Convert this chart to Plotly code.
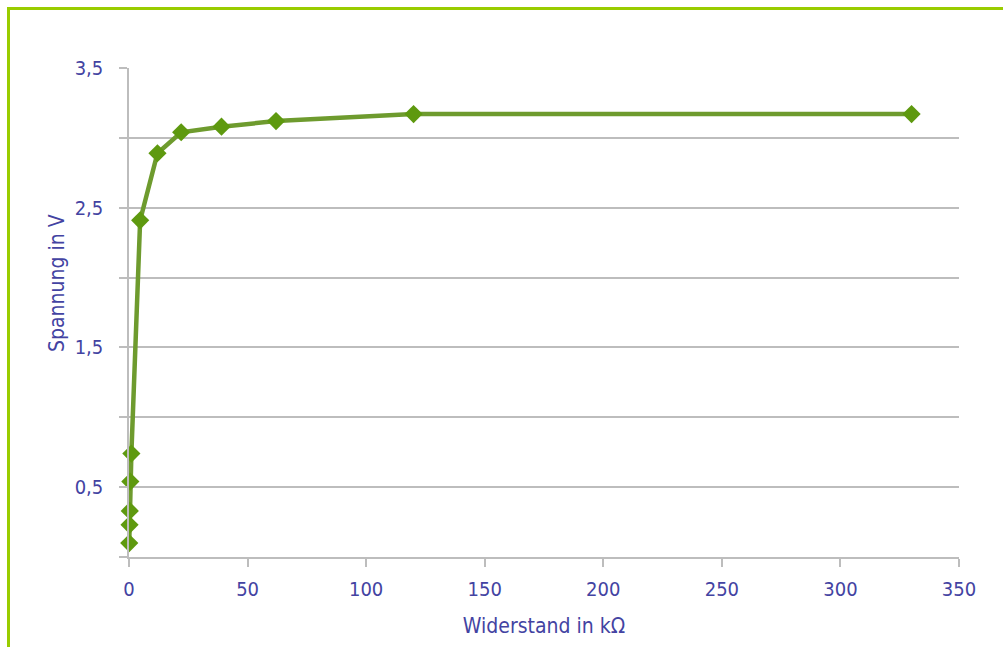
import plotly.graph_objects as go

# Data
resistance_kohm = [0.1, 0.22, 0.33, 0.56, 1.0, 4.7, 12, 22, 39, 62, 120, 330]
voltage_v = [0.10, 0.23, 0.33, 0.54, 0.74, 2.41, 2.89, 3.04, 3.08, 3.12, 3.17, 3.17]

y_tickvals = [0, 0.5, 1.0, 1.5, 2.0, 2.5, 3.0, 3.5]
y_ticktext = ["", "0,5", "", "1,5", "", "2,5", "", "3,5"]
x_tickvals = [0, 50, 100, 150, 200, 250, 300, 350]
x_ticktext = ["0", "50", "100", "150", "200", "250", "300", "350"]

FONT = "DejaVu Sans Condensed, Liberation Sans Narrow, Arial Narrow, sans-serif"
TXT = "#4343a2"
GRID = "#bdbdbd"
FRAME = "#99cc00"

fig = go.Figure()
fig.add_trace(go.Scatter(
    x=resistance_kohm, y=voltage_v, mode="lines+markers",
    line=dict(color="#6e9b2e", width=4.5),
    marker=dict(symbol="diamond", size=14, color="#5e990f"),
    cliponaxis=False,
    showlegend=False,
))

W, H = 1004, 648
L, R, T, B = 129, 45, 68, 91
pw, ph = W - L - R, H - T - B

def px(xp):
    return (xp - L) / pw

def py(yp):
    return (H - B - yp) / ph

fig.update_layout(
    width=W, height=H,
    margin=dict(l=L, r=R, t=T, b=B),
    paper_bgcolor="white", plot_bgcolor="white",
    font=dict(family=FONT, color=TXT, size=20),
    xaxis=dict(
        range=[0, 350], tickvals=x_tickvals, ticktext=x_ticktext,
        showgrid=False, showline=True, linecolor=GRID, linewidth=1.5,
        ticks="outside", ticklen=8, tickcolor=GRID, tickwidth=1.5,
        tickfont=dict(size=20, color=TXT, family=FONT),
        ticklabelstandoff=5,
        title=dict(text="Widerstand in kΩ", font=dict(size=21, color=TXT, family=FONT), standoff=19),
        zeroline=False,
    ),
    yaxis=dict(
        range=[0, 3.5], tickvals=y_tickvals, ticktext=y_ticktext,
        showgrid=True, gridcolor=GRID, gridwidth=1.5,
        showline=True, linecolor=GRID, linewidth=1.5,
        ticks="outside", ticklen=8, tickcolor=GRID, tickwidth=1.5,
        tickfont=dict(size=20, color=TXT, family=FONT),
        ticklabelstandoff=12,
        zeroline=False,
    ),
    annotations=[dict(
        text="Spannung in V", textangle=-90, showarrow=False,
        xref="paper", yref="paper", x=px(57), y=py(283),
        xanchor="center", yanchor="middle",
        font=dict(size=21, color=TXT, family=FONT),
    )],
    shapes=[
        dict(type="line", xref="paper", yref="paper",
             x0=px(7), x1=px(W - 1), y0=py(8.5), y1=py(8.5),
             line=dict(color=FRAME, width=3)),
        dict(type="line", xref="paper", yref="paper",
             x0=px(8.5), x1=px(8.5), y0=py(7), y1=py(H - 1),
             line=dict(color=FRAME, width=3)),
    ],
)

fig.write_html("out.html", config={"displayModeBar": False},
               post_script="document.body.style.margin='0';document.body.style.padding='0';document.body.style.overflow='hidden';")
